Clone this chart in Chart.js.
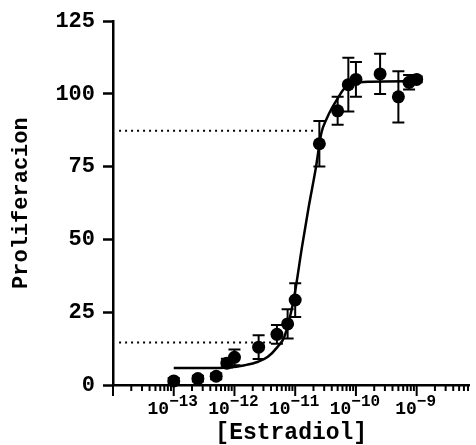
<!DOCTYPE html>
<html><head><meta charset="utf-8">
<script src="https://cdn.jsdelivr.net/npm/chart.js@4.4.1/dist/chart.umd.min.js"></script>
<style>html,body{margin:0;padding:0;background:#fff;}</style>
</head><body>
<canvas id="c" width="476" height="445"></canvas>
<script>
// ---- data ----
const concentrations = [1e-13, 2.5e-13, 5e-13, 7.5e-13, 1e-12, 2.5e-12, 5e-12, 7.5e-12, 1e-11,
                        2.5e-11, 5e-11, 7.5e-11, 1e-10, 2.5e-10, 5e-10, 7.5e-10, 1e-9];
const proliferation = [1.4, 2.2, 3.0, 7.5, 9.5, 13.0, 17.4, 21.0, 29.2,
                       82.9, 94.2, 103.2, 105.0, 106.9, 99.0, 104.0, 105.0];
const errors = [1, 1, 1, 1.5, 2.7, 4.1, 3.2, 5.0, 5.8,
                7.8, 4.8, 9.2, 6.0, 6.9, 8.8, 2.5, 1.0];
const curveLogConc = [-13.0, -12.5, -12.1, -11.83, -11.61, -11.45, -11.29, -11.18, -11.05,
                      -10.99, -10.89, -10.78, -10.66, -10.57, -10.48, -10.40, -10.30, -10.19,
                      -10.03, -9.76, -9.0];
const curveValues = [5.8, 5.8, 6.0, 6.8, 8.0, 9.7, 13.1, 16.5, 26.7,
                     33.6, 47.2, 60.9, 74.6, 86.5, 91.6, 95.0, 98.5, 101.9,
                     103.6, 104.2, 104.4];
const refLevels = [87.4, 14.6];
const refLogStart = [-13.9, -13.9];
const refLogEnd = [-10.64, -11.38];
const yTicks = [0, 25, 50, 75, 100, 125];
const xLabelExponents = [-13, -12, -11, -10, -9];
const xAxisLogMin = -14, xAxisLogMax = -8.13;

const FONT = "'Liberation Mono', 'DejaVu Sans Mono', monospace";

const pointData = concentrations.map((c, i) => ({x: c, y: proliferation[i]}));
const curveData = curveLogConc.map((l, i) => ({x: Math.pow(10, l), y: curveValues[i]}));
const refSets = refLevels.map((lv, i) => ({
  data: [{x: Math.pow(10, refLogStart[i]), y: lv}, {x: Math.pow(10, refLogEnd[i]), y: lv}],
  showLine: true, pointRadius: 0, borderColor: '#000', borderWidth: 2,
  borderDash: [2, 4], borderCapStyle: 'butt', fill: false
}));

const errorBarPlugin = {
  id: 'errorBars',
  afterDatasetsDraw(chart) {
    const {ctx, scales: {x, y}} = chart;
    ctx.save();
    ctx.strokeStyle = '#000';
    ctx.lineWidth = 2;
    concentrations.forEach((c, i) => {
      const px = x.getPixelForValue(c);
      const top = y.getPixelForValue(proliferation[i] + errors[i]);
      const bot = y.getPixelForValue(proliferation[i] - errors[i]);
      ctx.beginPath();
      ctx.moveTo(px, top); ctx.lineTo(px, bot);
      ctx.moveTo(px - 6, top); ctx.lineTo(px + 6, top);
      ctx.moveTo(px - 6, bot); ctx.lineTo(px + 6, bot);
      ctx.stroke();
    });
    ctx.restore();
  }
};

const xAxisPlugin = {
  id: 'logAxisTicks',
  afterDraw(chart) {
    const {ctx, scales: {x}, chartArea} = chart;
    const base = chartArea.bottom;
    ctx.save();
    ctx.strokeStyle = '#000';
    ctx.lineWidth = 2;
    for (let e = xAxisLogMin; e < xAxisLogMax; e++) {
      for (let k = 1; k <= 9; k++) {
        const v = k * Math.pow(10, e);
        if (v > x.max) break;
        const px = x.getPixelForValue(v);
        const len = k === 1 ? 11 : 6;
        ctx.beginPath();
        ctx.moveTo(px, base); ctx.lineTo(px, base + len);
        ctx.stroke();
      }
    }
    ctx.fillStyle = '#000';
    ctx.textBaseline = 'alphabetic';
    ctx.textAlign = 'left';
    xLabelExponents.forEach(e => {
      const px = x.getPixelForValue(Math.pow(10, e));
      const baseTxt = '10';
      const supTxt = '\u2212' + String(Math.abs(e));
      ctx.font = "bold 18px " + FONT;
      const w1 = ctx.measureText(baseTxt).width;
      ctx.font = "bold 16px " + FONT;
      const w2 = ctx.measureText(supTxt).width;
      const start = px - (w1 + w2) / 2 - 1;
      ctx.font = "bold 18px " + FONT;
      ctx.fillText(baseTxt, start, 414);
      ctx.font = "bold 16px " + FONT;
      ctx.fillText(supTxt, start + w1, 406);
    });
    ctx.restore();
  }
};

new Chart(document.getElementById('c'), {
  type: 'scatter',
  data: {
    datasets: [
      {data: pointData, pointRadius: 6.5, pointHoverRadius: 6.5, backgroundColor: '#000',
       borderWidth: 0, clip: false},
      {data: curveData, showLine: true, pointRadius: 0, borderColor: '#000', borderWidth: 2.5,
       cubicInterpolationMode: 'monotone', fill: false},
      ...refSets
    ]
  },
  options: {
    responsive: false,
    animation: false,
    devicePixelRatio: 1,
    layout: {padding: {top: 19, right: 0, left: 0, bottom: 0}},
    plugins: {legend: {display: false}, tooltip: {enabled: false}},
    scales: {
      x: {
        type: 'logarithmic',
        bounds: 'data',
        min: Math.pow(10, xAxisLogMin),
        max: Math.pow(10, xAxisLogMax),
        grid: {display: false},
        border: {display: true, color: '#000', width: 2.5},
        ticks: {display: false},
        title: {display: true, text: '[Estradiol]', color: '#000',
                font: {family: FONT, weight: 'bold', size: 23, lineHeight: 1.0},
                padding: {top: 0, bottom: 0}},
        afterFit(s) { s.height = 60; }
      },
      y: {
        min: 0, max: 125,
        afterBuildTicks(s) { s.ticks = yTicks.map(v => ({value: v})); },
        grid: {drawOnChartArea: false, drawTicks: true, tickLength: 10, tickWidth: 2.5, tickColor: '#000'},
        border: {display: true, color: '#000', width: 2.5},
        ticks: {color: '#000', padding: 8, font: {family: FONT, weight: 'bold', size: 22}},
        title: {display: true, text: 'Proliferacion', color: '#000',
                font: {family: FONT, weight: 'bold', size: 22, lineHeight: 1.2},
                padding: {top: 8, bottom: 0}},
        afterFit(s) { s.width = 113; }
      }
    }
  },
  plugins: [errorBarPlugin, xAxisPlugin]
});
</script>
</body></html>
